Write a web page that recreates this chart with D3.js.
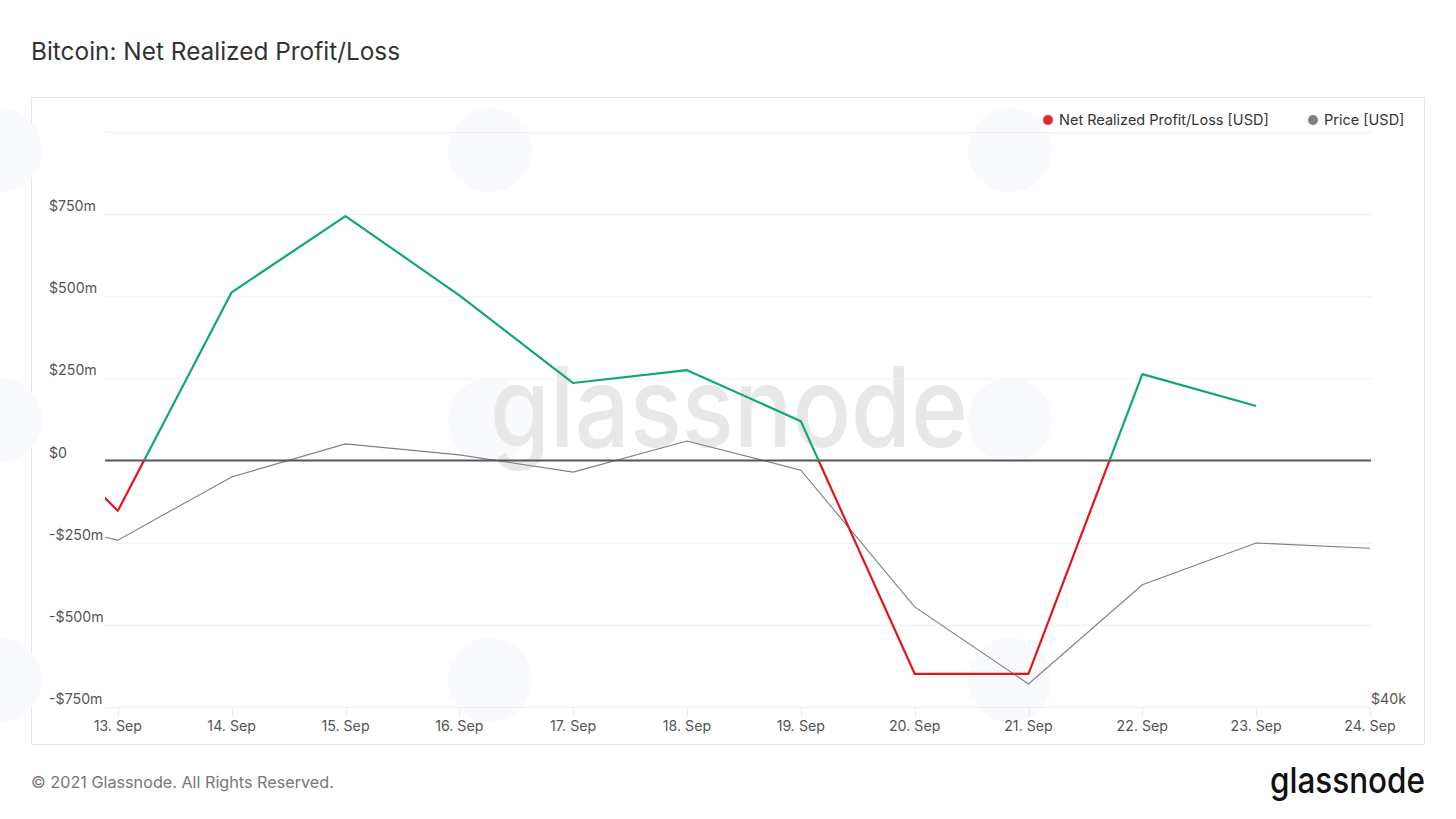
<!DOCTYPE html>
<html lang="en">
<head>
    <meta charset="UTF-8">
    <title>Bitcoin: Net Realized Profit/Loss</title>
    <script src="https://d3js.org/d3.v7.min.js"></script>
    <style>
        body {
            margin: 0;
            background: #fff;
            font-family: Inter, "Noto Sans", Arial, sans-serif;
        }
        .tick-label {
            font-size: 14.2px;
            fill: #555;
        }
    </style>
</head>
<body>
    <svg width="1456" height="819"></svg>

    <script>
        // Data (daily values, 12 Sep - 24 Sep 2021)
        const dates = ["2021-09-12", "2021-09-13", "2021-09-14", "2021-09-15", "2021-09-16",
            "2021-09-17", "2021-09-18", "2021-09-19", "2021-09-20", "2021-09-21",
            "2021-09-22", "2021-09-23", "2021-09-24"];
        // Net realized profit/loss in USD millions (no value yet for 24 Sep)
        const nrpl = [193, -153, 512, 744, 503, 236, 275, 120, -649, -649, 263, 166, null];
        // BTC price in USD
        const price = [45950, 45150, 47100, 48120, 47780, 47250, 48210, 47310, 43090, 40710, 43770, 45060, 44900];

        const leftTicks = [-750, -500, -250, 0, 250, 500, 750, 1000];
        const leftTickLabels = ["-$750m", "-$500m", "-$250m", "$0", "$250m", "$500m", "$750m", ""];
        const rightTicks = [40000];
        const rightTickLabels = ["$40k"];
        const legendItems = [
            {name: "Net Realized Profit/Loss [USD]", color: "#e4252b"},
            {name: "Price [USD]", color: "#7f7f7f"}
        ];

        const parse = d3.timeParse("%Y-%m-%d");
        const nrplData = dates.map((d, i) => ({date: parse(d), value: nrpl[i]}));
        const priceData = dates.map((d, i) => ({date: parse(d), value: price[i]}));

        const svg = d3.select("svg");

        // Plot area
        const plot = {left: 105, right: 1371, top: 132, bottom: 707};

        // 12 Sep sits just left of the visible plot area
        const x = d3.scaleTime()
            .domain([parse("2021-09-12"), parse("2021-09-24")])
            .range([4, 1370]);
        const y = d3.scaleLinear()
            .domain([-750, 1000])
            .range([plot.bottom, plot.top]);
        const yPrice = d3.scaleLinear()
            .domain([40000, 40000 + (plot.bottom - plot.top) * 30.86])
            .range([plot.bottom, plot.top]);

        // Title
        svg.append("text")
            .attr("x", 31).attr("y", 60)
            .attr("font-size", 24.4)
            .attr("fill", "#333")
            .text("Bitcoin: Net Realized Profit/Loss");

        // Chart frame
        svg.append("rect")
            .attr("x", 31.5).attr("y", 97.5)
            .attr("width", 1393).attr("height", 647)
            .attr("fill", "#fff")
            .attr("stroke", "#e6e6e6");

        // Faint background blobs of the watermark pattern
        const blobs = [[490, 150], [1010, 150], [490, 420], [1010, 420], [490, 680], [1010, 680], [0, 150], [0, 420], [0, 680]];
        svg.append("g").selectAll("circle")
            .data(blobs)
            .join("circle")
            .attr("cx", d => d[0]).attr("cy", d => d[1])
            .attr("r", 42)
            .attr("fill", "#f9fafd");

        // Watermark
        svg.append("text")
            .attr("x", 490).attr("y", 447)
            .attr("font-size", 112)
            .attr("font-weight", 500)
            .attr("textLength", 478)
            .attr("lengthAdjust", "spacingAndGlyphs")
            .attr("fill", "#e8e8e8")
            .text("glassnode");

        // Gridlines
        svg.append("g").selectAll("line")
            .data(leftTicks.filter(t => t !== 0))
            .join("line")
            .attr("x1", plot.left).attr("x2", plot.right)
            .attr("y1", d => y(d) + 0.5).attr("y2", d => y(d) + 0.5)
            .attr("stroke", "#efefef");

        // Left axis labels
        svg.append("g").selectAll("text")
            .data(leftTicks)
            .join("text")
            .attr("class", "tick-label")
            .attr("x", 49)
            .attr("y", d => y(d) - 3)
            .text((d, i) => leftTickLabels[i]);

        // Right axis label
        svg.append("g").selectAll("text")
            .data(rightTicks)
            .join("text")
            .attr("class", "tick-label")
            .attr("x", 1371)
            .attr("y", d => yPrice(d) - 3)
            .text((d, i) => rightTickLabels[i]);

        // X axis ticks and labels
        const xTicks = dates.slice(1).map(parse);
        const xAxis = svg.append("g");
        xAxis.selectAll("line")
            .data(xTicks)
            .join("line")
            .attr("x1", d => Math.round(x(d)) + 0.5).attr("x2", d => Math.round(x(d)) + 0.5)
            .attr("y1", plot.bottom).attr("y2", plot.bottom + 10)
            .attr("stroke", "#eaeaea");
        xAxis.selectAll("text")
            .data(xTicks)
            .join("text")
            .attr("class", "tick-label")
            .attr("x", d => x(d))
            .attr("y", plot.bottom + 24)
            .attr("text-anchor", "middle")
            .text(d => d3.timeFormat("%-d. %b")(d));

        // Clip paths
        const defs = svg.append("defs");
        defs.append("clipPath").attr("id", "clip-all")
            .append("rect")
            .attr("x", plot.left).attr("y", plot.top - 10)
            .attr("width", plot.right - plot.left + 1).attr("height", plot.bottom - plot.top + 10);
        defs.append("clipPath").attr("id", "clip-pos")
            .append("rect")
            .attr("x", plot.left).attr("y", 0)
            .attr("width", plot.right - plot.left + 1).attr("height", y(0));
        defs.append("clipPath").attr("id", "clip-neg")
            .append("rect")
            .attr("x", plot.left).attr("y", y(0))
            .attr("width", plot.right - plot.left + 1).attr("height", plot.bottom - y(0) + 5);

        // Price line
        const priceLine = d3.line()
            .x(d => x(d.date))
            .y(d => yPrice(d.value));
        svg.append("path")
            .datum(priceData)
            .attr("clip-path", "url(#clip-all)")
            .attr("fill", "none")
            .attr("stroke", "#7f7f7f")
            .attr("stroke-width", 1.1)
            .attr("d", priceLine);

        // Zero line
        svg.append("line")
            .attr("x1", plot.left).attr("x2", plot.right)
            .attr("y1", y(0)).attr("y2", y(0))
            .attr("stroke", "#555")
            .attr("stroke-width", 2);

        // NRPL line, green above zero and red below
        const nrplLine = d3.line()
            .defined(d => d.value !== null)
            .x(d => x(d.date))
            .y(d => y(d.value));
        const nrplGroup = svg.append("g").attr("clip-path", "url(#clip-all)");
        nrplGroup.append("path")
            .datum(nrplData)
            .attr("clip-path", "url(#clip-pos)")
            .attr("fill", "none")
            .attr("stroke", "#0fa871")
            .attr("stroke-width", 2.2)
            .attr("stroke-linejoin", "round")
            .attr("d", nrplLine);
        nrplGroup.append("path")
            .datum(nrplData)
            .attr("clip-path", "url(#clip-neg)")
            .attr("fill", "none")
            .attr("stroke", "#e0161b")
            .attr("stroke-width", 2.2)
            .attr("stroke-linejoin", "round")
            .attr("d", nrplLine);

        // Legend
        const legend = svg.append("g");
        const legendX = [1048, 1313];
        legendItems.forEach((item, i) => {
            legend.append("circle")
                .attr("cx", legendX[i]).attr("cy", 120)
                .attr("r", 5)
                .attr("fill", item.color);
            legend.append("text")
                .attr("x", legendX[i] + 11).attr("y", 125)
                .attr("font-size", 14.5)
                .attr("fill", "#333")
                .text(item.name);
        });

        // Footer
        svg.append("text")
            .attr("x", 31).attr("y", 788)
            .attr("font-size", 16.2)
            .attr("fill", "#777")
            .text("© 2021 Glassnode. All Rights Reserved.");
        svg.append("text")
            .attr("x", 1425).attr("y", 793)
            .attr("text-anchor", "end")
            .attr("font-size", 36)
            .attr("font-weight", 500)
            .attr("textLength", 155)
            .attr("lengthAdjust", "spacingAndGlyphs")
            .attr("fill", "#111")
            .text("glassnode");
    </script>
</body>
</html>
